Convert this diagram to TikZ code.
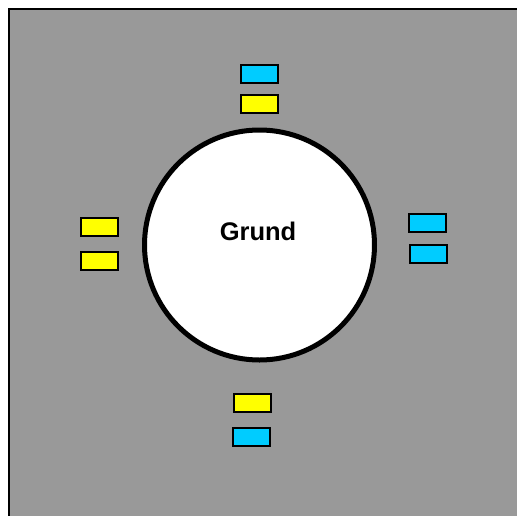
\documentclass[tikz,border=0pt]{standalone}
\usepackage{fontspec}
\setmainfont{Liberation Sans}
\usetikzlibrary{positioning}
\definecolor{bggray}{RGB}{153,153,153}
\definecolor{tabcyan}{RGB}{0,204,255}
\definecolor{tabyellow}{RGB}{255,255,0}
\begin{document}
\begin{tikzpicture}[
  x=1pt, y=-1pt,
  tab/.style={draw=black, line width=2pt, minimum width=37pt,
              minimum height=18pt, inner sep=0pt},
  cyantab/.style={tab, fill=tabcyan},
  yellowtab/.style={tab, fill=tabyellow},
  table/.style={circle, draw=black, line width=5pt, fill=white,
                minimum size=230pt, inner sep=0pt}
]
  \useasboundingbox (0,0) rectangle (517,515);
  \clip (0,0) rectangle (517,515);
  % background area
  \draw[line width=2pt, fill=bggray] (9,9) rectangle (540,540);

  % the table in the middle
  \node[table] (grund) at (259.5,245) {};
  \node[font=\bfseries\fontsize{25.5}{30}\selectfont] (label) at (258,231) {Grund};

  % tabs above
  \node[cyantab]   (top1) at (259,74)    {};
  \node[yellowtab] (top2) at (259.5,103.5) {};
  % tabs left
  \node[yellowtab] (left1) at (99.5,227) {};
  \node[yellowtab] (left2) at (99,260.5) {};
  % tabs right
  \node[cyantab]   (right1) at (427.5,223)  {};
  \node[cyantab]   (right2) at (428.5,253.5) {};
  % tabs below
  \node[yellowtab] (bot1) at (252,402.5) {};
  \node[cyantab]   (bot2) at (251,437)   {};
\end{tikzpicture}
\end{document}
